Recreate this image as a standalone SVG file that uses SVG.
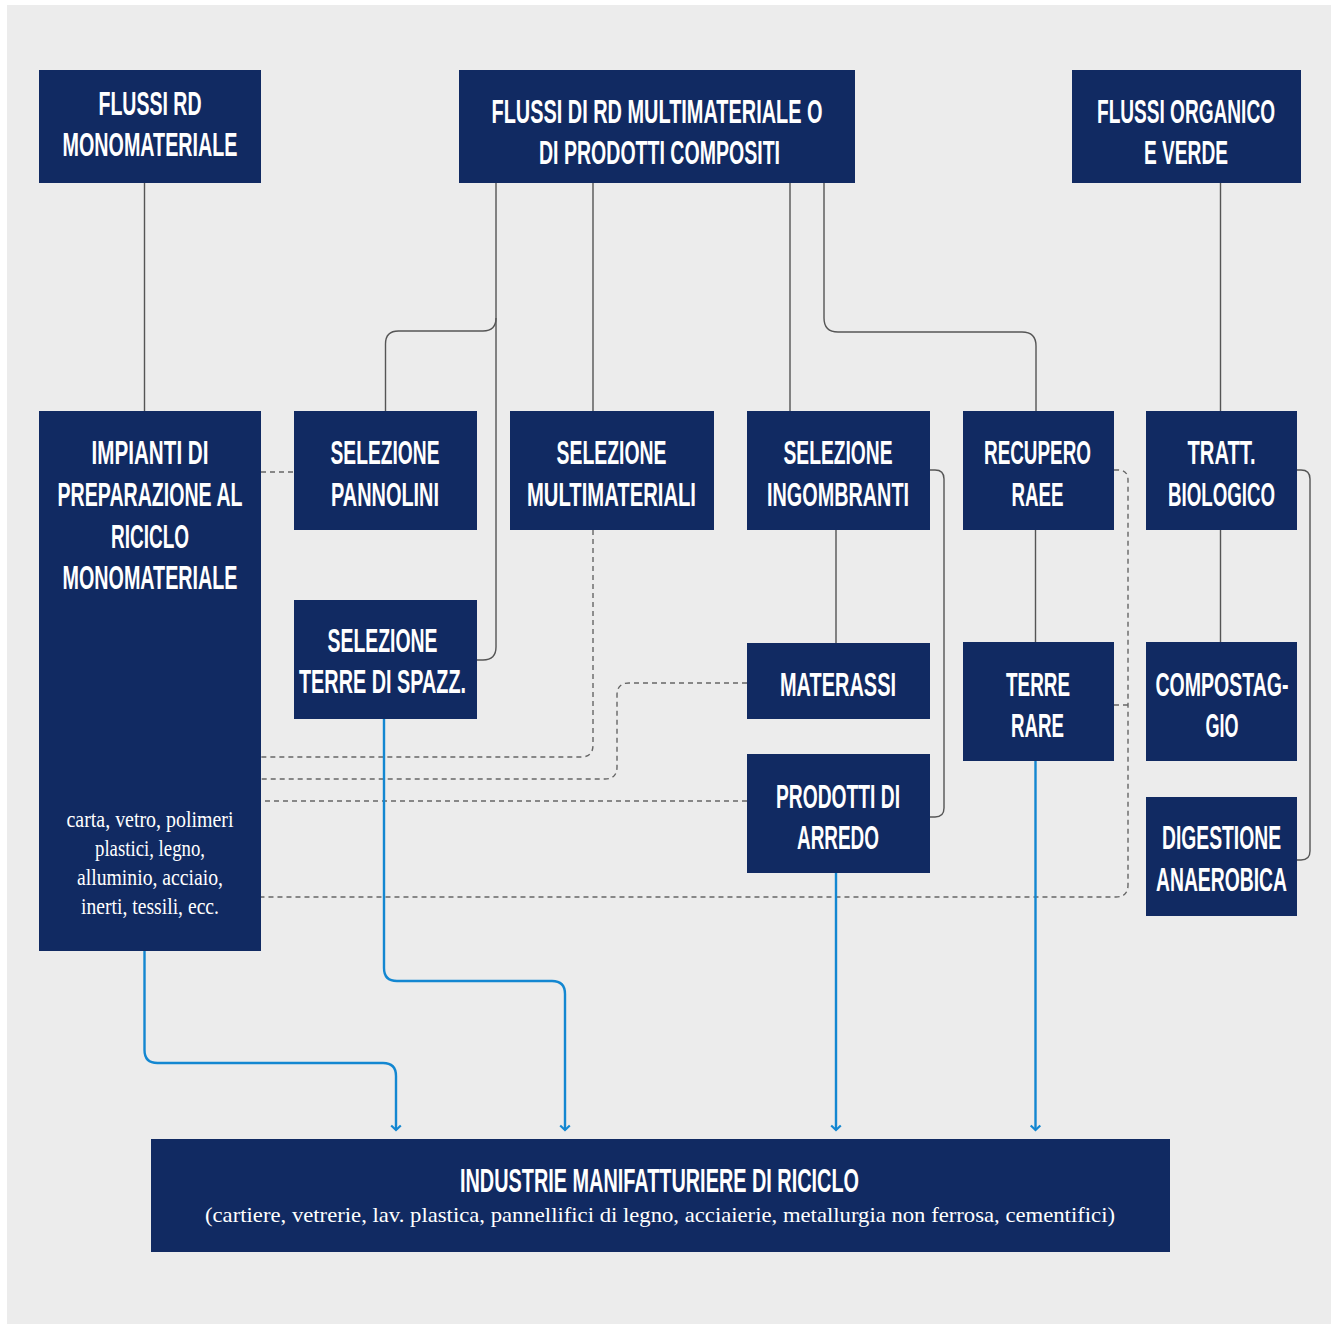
<svg xmlns="http://www.w3.org/2000/svg" width="1338" height="1324" viewBox="0 0 1338 1324">
  <style>
    .box { fill: #112a62; }
    .hd { font-family: "Liberation Sans Narrow", "Liberation Sans", "DejaVu Sans Condensed", sans-serif; font-weight: bold; font-size: 33px; fill: #ffffff; text-anchor: middle; }
    .sf { font-family: "Liberation Serif", "DejaVu Serif", serif; font-size: 21.5px; fill: #ffffff; text-anchor: middle; }
    .sf-big { font-size: 23px; }
    .ln { fill: none; stroke: #555555; stroke-width: 1.4; }
    .dash { fill: none; stroke: #666666; stroke-width: 1.4; stroke-dasharray: 5 4; }
    .flow { fill: none; stroke: #1387d1; stroke-width: 2.4; marker-end: url(#arr); }
  </style>
  <defs>
    <marker id="arr" viewBox="-7 -7 10 14" refX="0" refY="0" markerWidth="10" markerHeight="14" markerUnits="userSpaceOnUse" orient="auto">
      <path d="M-4.5,-4.8 L0,0 L-4.5,4.8" fill="none" stroke="#1387d1" stroke-width="2.2"/>
    </marker>
  </defs>

  <rect x="0" y="0" width="1338" height="1324" fill="#ffffff"/>
  <rect x="7" y="5" width="1324" height="1319" fill="#ececec"/>

  <!-- connectors -->
  <g id="connectors">
    <path class="ln" d="M144.5,183 V411"/>
    <path class="ln" d="M496,183 V647 Q496,660 483,660 H477"/>
    <path class="ln" d="M496,318 Q496,331 483,331 H398.5 Q385.5,331 385.5,344 V411"/>
    <path class="ln" d="M593,183 V411"/>
    <path class="ln" d="M790,183 V411"/>
    <path class="ln" d="M824,183 V318 Q824,332 838,332 H1022 Q1036,332 1036,346 V411"/>
    <path class="ln" d="M1220.5,183 V411"/>
    <path class="ln" d="M836,530 V643"/>
    <path class="ln" d="M1035.5,530 V642"/>
    <path class="ln" d="M1220.5,530 V642"/>
    <path class="ln" d="M930,470 H935 Q944,470 944,479 V808 Q944,817 935,817 H930"/>
    <path class="ln" d="M1297,470 H1301 Q1310,470 1310,479 V851 Q1310,860 1301,860 H1297"/>

    <path class="dash" d="M261,472 H294"/>
    <path class="dash" d="M593,530 V745 Q593,757 581,757 H261"/>
    <path class="dash" d="M747,683 H629 Q617,683 617,695 V767 Q617,779 605,779 H261"/>
    <path class="dash" d="M747,801 H261"/>
    <path class="dash" d="M1114,470 H1118 Q1128,470 1128,480 V885 Q1128,897 1116,897 H261"/>
    <path class="dash" d="M1114,705 H1128"/>

    <path class="flow" d="M144.5,951 V1050 Q144.5,1063 157.5,1063 H383 Q396,1063 396,1076 V1130"/>
    <path class="flow" d="M384,719 V968 Q384,981 397,981 H552 Q565,981 565,994 V1130"/>
    <path class="flow" d="M836,873 V1130"/>
    <path class="flow" d="M1035.5,761 V1130"/>
  </g>

  <!-- source flows -->
  <g id="flussi-rd-mono">
    <rect class="box" x="39" y="70" width="222" height="113"/>
    <text class="hd" x="150" y="115" textLength="103" lengthAdjust="spacingAndGlyphs">FLUSSI RD</text>
    <text class="hd" x="150" y="156" textLength="175" lengthAdjust="spacingAndGlyphs">MONOMATERIALE</text>
  </g>
  <g id="flussi-rd-multi">
    <rect class="box" x="459" y="70" width="396" height="113"/>
    <text class="hd" x="657" y="122.5" textLength="331" lengthAdjust="spacingAndGlyphs">FLUSSI DI RD MULTIMATERIALE O</text>
    <text class="hd" x="659.5" y="164" textLength="241" lengthAdjust="spacingAndGlyphs">DI PRODOTTI COMPOSITI</text>
  </g>
  <g id="flussi-organico">
    <rect class="box" x="1072" y="70" width="229" height="113"/>
    <text class="hd" x="1186" y="122.5" textLength="178" lengthAdjust="spacingAndGlyphs">FLUSSI ORGANICO</text>
    <text class="hd" x="1186" y="164" textLength="84" lengthAdjust="spacingAndGlyphs">E VERDE</text>
  </g>

  <!-- treatment plants -->
  <g id="impianti-mono">
    <rect class="box" x="39" y="411" width="222" height="540"/>
    <text class="hd" x="150" y="464" textLength="117" lengthAdjust="spacingAndGlyphs">IMPIANTI DI</text>
    <text class="hd" x="150" y="506" textLength="185" lengthAdjust="spacingAndGlyphs">PREPARAZIONE AL</text>
    <text class="hd" x="150" y="548" textLength="78" lengthAdjust="spacingAndGlyphs">RICICLO</text>
    <text class="hd" x="150" y="589" textLength="175" lengthAdjust="spacingAndGlyphs">MONOMATERIALE</text>
    <text class="sf sf-big" x="150" y="827" textLength="167" lengthAdjust="spacingAndGlyphs">carta, vetro, polimeri</text>
    <text class="sf sf-big" x="150" y="856" textLength="110" lengthAdjust="spacingAndGlyphs">plastici, legno,</text>
    <text class="sf sf-big" x="150" y="885" textLength="146" lengthAdjust="spacingAndGlyphs">alluminio, acciaio,</text>
    <text class="sf sf-big" x="150" y="914" textLength="138" lengthAdjust="spacingAndGlyphs">inerti, tessili, ecc.</text>
  </g>
  <g id="sel-pannolini">
    <rect class="box" x="294" y="411" width="183" height="119"/>
    <text class="hd" x="385" y="464" textLength="109" lengthAdjust="spacingAndGlyphs">SELEZIONE</text>
    <text class="hd" x="385" y="506" textLength="108" lengthAdjust="spacingAndGlyphs">PANNOLINI</text>
  </g>
  <g id="sel-multimateriali">
    <rect class="box" x="510" y="411" width="204" height="119"/>
    <text class="hd" x="611.5" y="464" textLength="110" lengthAdjust="spacingAndGlyphs">SELEZIONE</text>
    <text class="hd" x="611.5" y="506" textLength="169" lengthAdjust="spacingAndGlyphs">MULTIMATERIALI</text>
  </g>
  <g id="sel-ingombranti">
    <rect class="box" x="747" y="411" width="183" height="119"/>
    <text class="hd" x="838" y="464" textLength="109" lengthAdjust="spacingAndGlyphs">SELEZIONE</text>
    <text class="hd" x="838" y="506" textLength="142" lengthAdjust="spacingAndGlyphs">INGOMBRANTI</text>
  </g>
  <g id="recupero-raee">
    <rect class="box" x="963" y="411" width="151" height="119"/>
    <text class="hd" x="1037.5" y="464" textLength="107" lengthAdjust="spacingAndGlyphs">RECUPERO</text>
    <text class="hd" x="1037.5" y="506" textLength="52" lengthAdjust="spacingAndGlyphs">RAEE</text>
  </g>
  <g id="tratt-biologico">
    <rect class="box" x="1146" y="411" width="151" height="119"/>
    <text class="hd" x="1221.5" y="464" textLength="68" lengthAdjust="spacingAndGlyphs">TRATT.</text>
    <text class="hd" x="1221.5" y="506" textLength="107" lengthAdjust="spacingAndGlyphs">BIOLOGICO</text>
  </g>
  <g id="sel-terre-spazz">
    <rect class="box" x="294" y="600" width="183" height="119"/>
    <text class="hd" x="382.5" y="652" textLength="110" lengthAdjust="spacingAndGlyphs">SELEZIONE</text>
    <text class="hd" x="382.5" y="693" textLength="167" lengthAdjust="spacingAndGlyphs">TERRE DI SPAZZ.</text>
  </g>
  <g id="materassi">
    <rect class="box" x="747" y="643" width="183" height="76"/>
    <text class="hd" x="838" y="696" textLength="116" lengthAdjust="spacingAndGlyphs">MATERASSI</text>
  </g>
  <g id="prodotti-arredo">
    <rect class="box" x="747" y="754" width="183" height="119"/>
    <text class="hd" x="838" y="808" textLength="124" lengthAdjust="spacingAndGlyphs">PRODOTTI DI</text>
    <text class="hd" x="838" y="849" textLength="82" lengthAdjust="spacingAndGlyphs">ARREDO</text>
  </g>
  <g id="terre-rare">
    <rect class="box" x="963" y="642" width="151" height="119"/>
    <text class="hd" x="1038" y="696" textLength="64" lengthAdjust="spacingAndGlyphs">TERRE</text>
    <text class="hd" x="1037.5" y="737" textLength="53" lengthAdjust="spacingAndGlyphs">RARE</text>
  </g>
  <g id="compostaggio">
    <rect class="box" x="1146" y="642" width="151" height="119"/>
    <text class="hd" x="1222" y="696" textLength="133" lengthAdjust="spacingAndGlyphs">COMPOSTAG-</text>
    <text class="hd" x="1222" y="737" textLength="33" lengthAdjust="spacingAndGlyphs">GIO</text>
  </g>
  <g id="digestione-anaerobica">
    <rect class="box" x="1146" y="797" width="151" height="119"/>
    <text class="hd" x="1221.5" y="849" textLength="119" lengthAdjust="spacingAndGlyphs">DIGESTIONE</text>
    <text class="hd" x="1221.5" y="891" textLength="131" lengthAdjust="spacingAndGlyphs">ANAEROBICA</text>
  </g>

  <!-- recycling industry -->
  <g id="industrie-riciclo">
    <rect class="box" x="151" y="1139" width="1019" height="113"/>
    <text class="hd" x="659.5" y="1192" textLength="399" lengthAdjust="spacingAndGlyphs">INDUSTRIE MANIFATTURIERE DI RICICLO</text>
    <text class="sf" x="660" y="1222" textLength="910" lengthAdjust="spacingAndGlyphs">(cartiere, vetrerie, lav. plastica, pannellifici di legno, acciaierie, metallurgia non ferrosa, cementifici)</text>
  </g>
</svg>
